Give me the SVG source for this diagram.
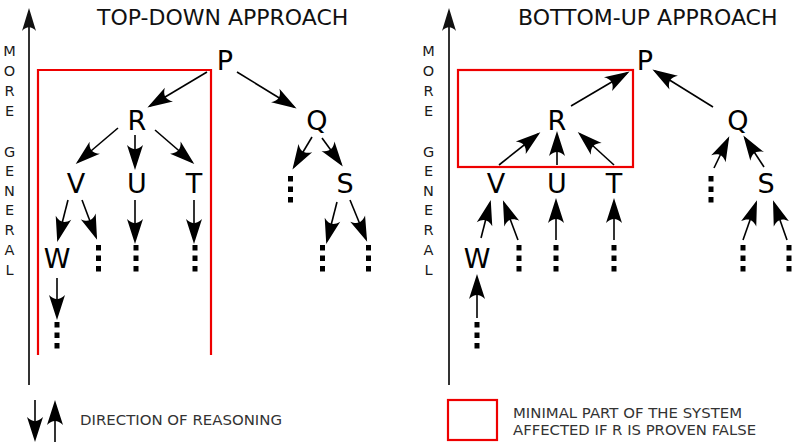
<svg xmlns="http://www.w3.org/2000/svg" width="792" height="442" viewBox="0 0 792 442">
<defs>
<marker id="ah" markerUnits="userSpaceOnUse" markerWidth="34" markerHeight="22" viewBox="-28 -11 34 22" refX="0" refY="0" orient="auto" overflow="visible">
<path d="M3,0 L-22,-8 C-16.5,-2.5 -16.5,2.5 -22,8 Z" fill="#000"/>
</marker>
<marker id="ax" markerUnits="userSpaceOnUse" markerWidth="34" markerHeight="22" viewBox="-28 -11 34 22" refX="0" refY="0" orient="auto" overflow="visible">
<path d="M3,0 L-20,-7 C-15,-2.5 -15,2.5 -20,7 Z" fill="#111"/>
</marker>
</defs>
<style>
.node{font-family:"DejaVu Sans","Liberation Sans",sans-serif;font-size:27px;fill:#000;text-anchor:middle}
.title{font-family:"DejaVu Sans","Liberation Sans",sans-serif;font-size:22px;fill:#111}
.side{font-family:"DejaVu Sans","Liberation Sans",sans-serif;font-size:14.5px;fill:#1a1a1a;text-anchor:middle}
.leg{font-family:"DejaVu Sans","Liberation Sans",sans-serif;font-size:14px;fill:#333}
.c line{stroke:#000;stroke-width:1.6;marker-end:url(#ah)}
.dots{stroke:#000;stroke-width:5;stroke-dasharray:5.5 5}
.axis{stroke:#333;stroke-width:2;marker-end:url(#ax)}
.red{fill:none;stroke:#ee0000;stroke-width:2.2}
</style>
<rect width="792" height="442" fill="#fff"/>

<!-- LEFT PANEL -->
<g id="left-axis">
<line class="axis" x1="29" y1="385" x2="29" y2="11"/>
<g class="side">
<text class="side" x="9.5" y="56">M</text><text class="side" x="9.5" y="76">O</text><text class="side" x="9.5" y="96">R</text><text class="side" x="9.5" y="116">E</text>
<text class="side" x="9.5" y="157">G</text><text class="side" x="9.5" y="176">E</text><text class="side" x="9.5" y="196">N</text><text class="side" x="9.5" y="215">E</text><text class="side" x="9.5" y="235">R</text><text class="side" x="9.5" y="255">A</text><text class="side" x="9.5" y="275">L</text>
</g>
</g>
<text id="title-left" class="title" x="97" y="25">TOP-DOWN APPROACH</text>
<path id="scope-left" class="red" d="M38,355 V70 H211 V355"/>
<g id="L-P"><text class="node" x="225" y="70">P</text></g>
<g id="L-R"><text class="node" x="137" y="130">R</text></g>
<g id="L-Q"><text class="node" x="317" y="130">Q</text></g>
<g id="L-V"><text class="node" x="76" y="193">V</text></g>
<g id="L-U"><text class="node" x="137" y="193">U</text></g>
<g id="L-T"><text class="node" x="194" y="193">T</text></g>
<g id="L-S"><text class="node" x="345" y="193">S</text></g>
<g id="L-W"><text class="node" x="57" y="268">W</text></g>
<g id="L-dots">
<line class="dots" x1="290.5" y1="176" x2="290.5" y2="203"/>
<line class="dots" x1="98.5" y1="245" x2="98.5" y2="272"/>
<line class="dots" x1="136" y1="245" x2="136" y2="272"/>
<line class="dots" x1="195" y1="245" x2="195" y2="272"/>
<line class="dots" x1="322.5" y1="245" x2="322.5" y2="272"/>
<line class="dots" x1="368.5" y1="245" x2="368.5" y2="272"/>
<line class="dots" x1="57" y1="322" x2="57" y2="350"/>
</g>
<g id="L-connectors" class="c">
<line x1="207" y1="72" x2="150" y2="106"/>
<line x1="237" y1="72" x2="294" y2="107"/>
<line x1="118" y1="128" x2="78" y2="162"/>
<line x1="135" y1="135" x2="135" y2="167"/>
<line x1="155" y1="130" x2="192" y2="162"/>
<line x1="312" y1="137" x2="294" y2="167"/>
<line x1="322" y1="138" x2="341" y2="164"/>
<line x1="337" y1="202" x2="327" y2="241"/>
<line x1="350" y1="200" x2="366" y2="239"/>
<line x1="68" y1="200" x2="58" y2="239"/>
<line x1="82" y1="200" x2="96" y2="237"/>
<line x1="135" y1="200" x2="135" y2="241"/>
<line x1="194" y1="200" x2="194" y2="241"/>
<line x1="57" y1="278" x2="57" y2="317"/>
</g>

<!-- RIGHT PANEL -->
<g id="right-axis">
<line class="axis" x1="449" y1="385" x2="449" y2="11"/>
<g class="side">
<text class="side" x="428.5" y="56">M</text><text class="side" x="428.5" y="76">O</text><text class="side" x="428.5" y="96">R</text><text class="side" x="428.5" y="116">E</text>
<text class="side" x="428.5" y="157">G</text><text class="side" x="428.5" y="176">E</text><text class="side" x="428.5" y="196">N</text><text class="side" x="428.5" y="215">E</text><text class="side" x="428.5" y="235">R</text><text class="side" x="428.5" y="255">A</text><text class="side" x="428.5" y="275">L</text>
</g>
</g>
<text id="title-right" class="title" x="518" y="25">BOTTOM-UP APPROACH</text>
<rect id="scope-right" class="red" x="458" y="70" width="175" height="97"/>
<g id="R-P"><text class="node" x="645" y="70">P</text></g>
<g id="R-R"><text class="node" x="557" y="130">R</text></g>
<g id="R-Q"><text class="node" x="738" y="130">Q</text></g>
<g id="R-V"><text class="node" x="496" y="193">V</text></g>
<g id="R-U"><text class="node" x="557" y="193">U</text></g>
<g id="R-T"><text class="node" x="614" y="193">T</text></g>
<g id="R-S"><text class="node" x="766" y="193">S</text></g>
<g id="R-W"><text class="node" x="477" y="268">W</text></g>
<g id="R-dots">
<line class="dots" x1="711" y1="176" x2="711" y2="203"/>
<line class="dots" x1="519" y1="245" x2="519" y2="272"/>
<line class="dots" x1="556" y1="245" x2="556" y2="272"/>
<line class="dots" x1="614" y1="245" x2="614" y2="272"/>
<line class="dots" x1="743" y1="245" x2="743" y2="272"/>
<line class="dots" x1="789" y1="245" x2="789" y2="272"/>
<line class="dots" x1="477" y1="322" x2="477" y2="350"/>
</g>
<g id="R-connectors" class="c">
<line x1="571" y1="106" x2="627" y2="73"/>
<line x1="713" y1="107" x2="655" y2="71"/>
<line x1="499" y1="165" x2="538" y2="134"/>
<line x1="557" y1="165" x2="557" y2="134"/>
<line x1="614" y1="165" x2="580" y2="134"/>
<line x1="714" y1="168" x2="728" y2="139"/>
<line x1="764" y1="167" x2="745" y2="138"/>
<line x1="481" y1="238" x2="490" y2="203"/>
<line x1="518" y1="240" x2="504" y2="203"/>
<line x1="556" y1="240" x2="556" y2="201"/>
<line x1="614" y1="240" x2="614" y2="201"/>
<line x1="743" y1="240" x2="756" y2="203"/>
<line x1="787" y1="240" x2="774" y2="203"/>
<line x1="477" y1="318" x2="477" y2="277"/>
</g>

<!-- LEGEND -->
<g id="legend-direction">
<line x1="35" y1="400" x2="35" y2="439" stroke="#000" stroke-width="1.6" marker-end="url(#ah)"/>
<line x1="55" y1="445" x2="55" y2="403" stroke="#000" stroke-width="1.6" marker-end="url(#ah)"/>
<text class="leg" x="80" y="425" textLength="202" lengthAdjust="spacingAndGlyphs">DIRECTION OF REASONING</text>
</g>
<g id="legend-scope">
<rect class="red" x="448" y="400" width="49" height="40"/>
<text class="leg" x="513" y="418" textLength="229" lengthAdjust="spacingAndGlyphs">MINIMAL PART OF THE SYSTEM</text>
<text class="leg" x="513" y="434.5" textLength="243" lengthAdjust="spacingAndGlyphs">AFFECTED IF R IS PROVEN FALSE</text>
</g>
</svg>
